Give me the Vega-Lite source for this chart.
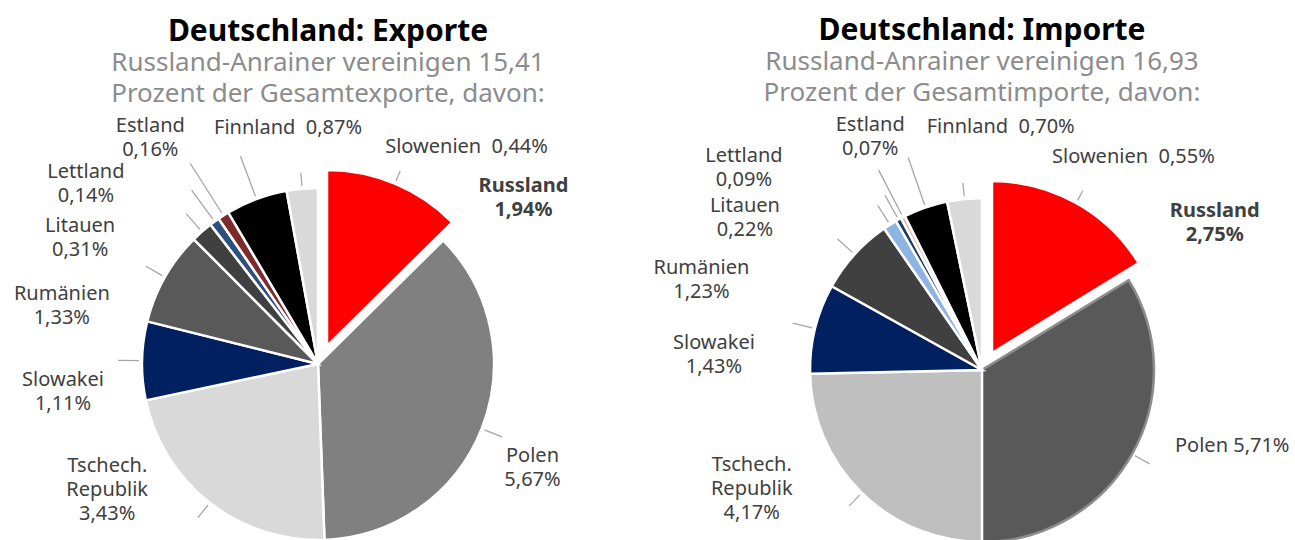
{
  "$schema": "https://vega.github.io/schema/vega-lite/v6.json",
  "background": "white",
  "padding": {"left": 0, "right": 0, "top": 15, "bottom": 0},
  "bounds": "flush",
  "spacing": 33,
  "config": {"view": {"stroke": null}, "font": "Noto Sans"},
  "resolve": {"scale": {"color": "independent", "theta": "independent"}},
  "hconcat": [
    {
      "width": 636,
      "height": 330,
      "title": {
        "text": "Deutschland: Exporte",
        "subtitle": ["Russland-Anrainer vereinigen 15,41", "Prozent der Gesamtexporte, davon:"],
        "anchor": "middle",
        "dx": 10,
        "offset": 9,
        "font": "Noto Sans",
        "fontSize": 30,
        "fontWeight": "bold",
        "color": "#000000",
        "subtitleFont": "Noto Sans",
        "subtitleFontSize": 26,
        "subtitleColor": "#8c8c8c",
        "subtitleLineHeight": 31,
        "subtitlePadding": 3
      },
      "data": {
        "values": [
          {"nr": 1, "land": "Russland", "anteil": 1.94, "label": "Russland\n1,94%"},
          {"nr": 2, "land": "Polen", "anteil": 5.67, "label": "Polen\n5,67%"},
          {"nr": 3, "land": "Tschech. Republik", "anteil": 3.43, "label": "Tschech.\nRepublik\n3,43%"},
          {"nr": 4, "land": "Slowakei", "anteil": 1.11, "label": "Slowakei\n1,11%"},
          {"nr": 5, "land": "Rumänien", "anteil": 1.33, "label": "Rumänien\n1,33%"},
          {"nr": 6, "land": "Litauen", "anteil": 0.31, "label": "Litauen\n0,31%"},
          {"nr": 7, "land": "Lettland", "anteil": 0.14, "label": "Lettland\n0,14%"},
          {"nr": 8, "land": "Estland", "anteil": 0.16, "label": "Estland\n0,16%"},
          {"nr": 9, "land": "Finnland", "anteil": 0.87, "label": "Finnland\u00a0\u00a00,87%"},
          {"nr": 10, "land": "Slowenien", "anteil": 0.44, "label": "Slowenien\u00a0\u00a00,44%"}
        ]
      },
      "layer": [
        {
          "mark": {
            "type": "arc",
            "radius": 176,
            "stroke": "white",
            "strokeWidth": 2.5,
            "xOffset": {"expr": "datum.nr === 1 ? 9 : 0"},
            "yOffset": {"expr": "datum.nr === 1 ? -18 : 0"}
          },
          "encoding": {
            "theta": {"field": "anteil", "type": "quantitative", "stack": true},
            "order": {"field": "nr", "type": "quantitative"},
            "color": {
              "field": "land",
              "type": "nominal",
              "legend": null,
              "scale": {
                "domain": ["Russland", "Polen", "Tschech. Republik", "Slowakei", "Rumänien", "Litauen", "Lettland", "Estland", "Finnland", "Slowenien"],
                "range": ["#ff0000", "#808080", "#d9d9d9", "#002060", "#595959", "#404040", "#2b4f7f", "#7f2a2a", "#000000", "#d9d9d9"]
              }
            }
          }
        },
        {
          "mark": {
            "type": "arc",
            "padAngle": 3.1,
            "radius": {"expr": "[190,198,195,200,198,200,215,238,222,192][datum.nr-1]"},
            "radius2": 179,
            "fill": "transparent",
            "stroke": "#a6a6a6",
            "strokeWidth": 1.3,
            "xOffset": {"expr": "datum.nr === 1 ? 9 : 0"},
            "yOffset": {"expr": "datum.nr === 1 ? -18 : 0"}
          },
          "encoding": {
            "theta": {"field": "anteil", "type": "quantitative", "stack": true},
            "order": {"field": "nr", "type": "quantitative"}
          }
        },
        {
          "mark": {
            "type": "text",
            "radius": 206,
            "font": "Noto Sans",
            "fontSize": 20,
            "lineHeight": 24,
            "lineBreak": "\n",
            "align": "center",
            "baseline": "middle",
            "color": "#404040",
            "fontWeight": {"expr": "datum.nr === 1 ? 'bold' : 'normal'"},
            "dx": {"expr": "[126,23,-84,-49,-77,-102,-111,-57,42,167][datum.nr-1]"},
            "dy": {"expr": "[12,16,-60,20,32,17,-25,-64,-43,-12][datum.nr-1]"}
          },
          "encoding": {
            "theta": {"field": "anteil", "type": "quantitative", "stack": true},
            "order": {"field": "nr", "type": "quantitative"},
            "text": {"field": "label"}
          }
        }
      ]
    },
    {
      "width": 626,
      "height": 342,
      "title": {
        "text": "Deutschland: Importe",
        "subtitle": ["Russland-Anrainer vereinigen 16,93", "Prozent der Gesamtimporte, davon:"],
        "anchor": "middle",
        "offset": 9,
        "font": "Noto Sans",
        "fontSize": 30,
        "fontWeight": "bold",
        "color": "#000000",
        "subtitleFont": "Noto Sans",
        "subtitleFontSize": 26,
        "subtitleColor": "#8c8c8c",
        "subtitleLineHeight": 31,
        "subtitlePadding": 3
      },
      "data": {
        "values": [
          {"nr": 1, "land": "Russland", "anteil": 2.75, "label": "Russland\n2,75%"},
          {"nr": 2, "land": "Polen", "anteil": 5.71, "label": "Polen 5,71%"},
          {"nr": 3, "land": "Tschech. Republik", "anteil": 4.17, "label": "Tschech.\nRepublik\n4,17%"},
          {"nr": 4, "land": "Slowakei", "anteil": 1.43, "label": "Slowakei\n1,43%"},
          {"nr": 5, "land": "Rumänien", "anteil": 1.23, "label": "Rumänien\n1,23%"},
          {"nr": 6, "land": "Litauen", "anteil": 0.22, "label": "Litauen\n0,22%"},
          {"nr": 7, "land": "Lettland", "anteil": 0.09, "label": "Lettland\n0,09%"},
          {"nr": 8, "land": "Estland", "anteil": 0.07, "label": "Estland\n0,07%"},
          {"nr": 9, "land": "Finnland", "anteil": 0.70, "label": "Finnland\u00a0\u00a00,70%"},
          {"nr": 10, "land": "Slowenien", "anteil": 0.55, "label": "Slowenien\u00a0\u00a00,55%"}
        ]
      },
      "layer": [
        {
          "mark": {
            "type": "arc",
            "radius": 172,
            "stroke": {"expr": "datum.nr === 2 ? '#8c8c8c' : 'white'"},
            "strokeWidth": 2.5,
            "xOffset": {"expr": "datum.nr === 1 ? 10 : 0"},
            "yOffset": {"expr": "datum.nr === 1 ? -17 : 0"}
          },
          "encoding": {
            "theta": {"field": "anteil", "type": "quantitative", "stack": true},
            "order": {"field": "nr", "type": "quantitative"},
            "color": {
              "field": "land",
              "type": "nominal",
              "legend": null,
              "scale": {
                "domain": ["Russland", "Polen", "Tschech. Republik", "Slowakei", "Rumänien", "Litauen", "Lettland", "Estland", "Finnland", "Slowenien"],
                "range": ["#ff0000", "#595959", "#bfbfbf", "#002060", "#404040", "#8db4e2", "#1f3864", "#e6b9b8", "#000000", "#d9d9d9"]
              }
            }
          }
        },
        {
          "mark": {
            "type": "arc",
            "padAngle": 3.1,
            "radius": {"expr": "[186,192,190,195,195,195,200,225,225,188][datum.nr-1]"},
            "radius2": 175,
            "fill": "transparent",
            "stroke": "#a6a6a6",
            "strokeWidth": 1.3,
            "xOffset": {"expr": "datum.nr === 1 ? 10 : 0"},
            "yOffset": {"expr": "datum.nr === 1 ? -17 : 0"}
          },
          "encoding": {
            "theta": {"field": "anteil", "type": "quantitative", "stack": true},
            "order": {"field": "nr", "type": "quantitative"}
          }
        },
        {
          "mark": {
            "type": "text",
            "radius": 202,
            "font": "Noto Sans",
            "fontSize": 20,
            "lineHeight": 24,
            "lineBreak": "\n",
            "align": "center",
            "baseline": "middle",
            "color": "#404040",
            "fontWeight": {"expr": "datum.nr === 1 ? 'bold' : 'normal'"},
            "dx": {"expr": "[134,74,-89,-72,-131,-129,-140,-19,85,172][datum.nr-1]"},
            "dy": {"expr": "[17,-23,-49,22,34,7,-37,-66,-52,-12][datum.nr-1]"}
          },
          "encoding": {
            "theta": {"field": "anteil", "type": "quantitative", "stack": true},
            "order": {"field": "nr", "type": "quantitative"},
            "text": {"field": "label"}
          }
        }
      ]
    }
  ]
}
